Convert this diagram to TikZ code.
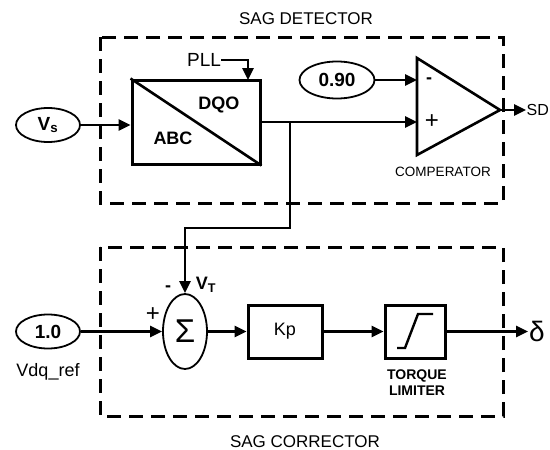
\documentclass[tikz,border=0pt]{standalone}
\usepackage{fontspec}
\setmainfont{Liberation Sans}
\usepackage{tikz}
\usetikzlibrary{shapes.geometric, arrows.meta, positioning}
\newcommand{\setfs}[1]{\fontsize{#1}{#1}\selectfont}
\tikzstyle{signal} = [
    ellipse, draw, line width=1.8pt, inner sep=0pt,
    minimum width=64pt, minimum height=34pt, font=\bfseries\setfs{19}
]
\tikzstyle{block} = [rectangle, draw, line width=3pt, inner sep=0pt]
\tikzstyle{arrow} = [line width=2.6pt, -{Triangle[length=12pt,width=11pt]}]
\tikzstyle{wire} = [line width=2.6pt]
\tikzstyle{region} = [line width=3pt, dash pattern=on 14pt off 8pt]
\tikzstyle{boxtitle} = [font=\setfs{17}, inner sep=0pt]
\tikzstyle{smalltag} = [font=\setfs{13.5}, inner sep=0pt]
\tikzstyle{blocktext} = [font=\bfseries\setfs{18}, inner sep=0pt]

\begin{document}
\begin{tikzpicture}[x=1pt, y=-1pt]
    \useasboundingbox (0,0) rectangle (550,450);

    % sag detector
    \draw [region] (100,37) rectangle (503,203);
    \node [boxtitle] (dettitle) at (306,19) {SAG DETECTOR};

    \node [signal] (vs) at (48,125) {V\textsubscript{s}};
    \node [block, minimum width=128pt, minimum height=84pt] (abc) at (196,122) {};
    \draw [wire] (abc.north west) -- (abc.south east);
    \node [blocktext] (dqo) at (219,105) {DQO};
    \node [blocktext] (abctxt) at (173,138) {ABC};
    \node [font=\setfs{19}, inner sep=0pt] (pll) at (204,60) {PLL};
    \coordinate (pllin) at (248,80);

    \draw [arrow] (pll.east) -| (pllin);
    \draw [arrow] (vs.east) -- (vs.east -| abc.west);

    % comperator
    \draw [line width=2.6pt, line join=miter] (417,58) -- (500,110) -- (417,155) -- cycle;
    \coordinate (compout) at (500,110);
    \coordinate (cminus) at (417,80);
    \coordinate (cplus) at (417,122);
    \node [blocktext] (minus) at (429,81) {-};
    \node [font=\setfs{24}, inner sep=0pt] (plus) at (432,122) {+};
    \node [smalltag] (comptxt) at (443,172) {COMPERATOR};
    \node [signal, minimum width=75pt, minimum height=37pt] (ref90) at (337,80) {0.90};
    \node [font=\setfs{16}, anchor=west, inner sep=0.5pt] (sd) at (526,110) {SD};

    \draw [arrow] (ref90) -- (cminus);
    \draw [arrow] (abc.east) -- (cplus);
    \draw [arrow] (compout) -- (sd.west);

    % sag corrector
    \draw [region] (100,247) rectangle (503,416);
    \node [boxtitle] (cortitle) at (305,442) {SAG CORRECTOR};

    \node [signal] (ref10) at (48,331.5) {1.0};
    \node [font=\setfs{18}, inner sep=0pt] (vdqref) at (48,372) {Vdq\_ref};
    \node [ellipse, draw, line width=1.8pt, inner sep=0pt, minimum width=44pt,
        minimum height=75pt, font=\setfs{33}] (sum) at (185,331.5) {Σ};
    \node [font=\setfs{24}, inner sep=0pt] (plus2) at (153,315) {+};
    \node [blocktext] (minus2) at (168,289) {-};
    \node [blocktext] (vt) at (206,285) {V\textsubscript{T}};
    \node [block, minimum width=74pt, minimum height=53pt, font=\setfs{18}] (kp) at (285,331.5) {Kp};
    \node [block, minimum width=60pt, minimum height=53pt] (lim) at (415,331.5) {};
    \draw [line width=2.4pt] ([shift={(-18,16.5)}]lim.center) -- ++(8,0) -- ++(13,-34) -- ++(15,0);
    \node [smalltag, font=\bfseries\setfs{14}, align=center] (limtxt) at (417,383) {TORQUE\\[2pt]LIMITER};
    \node [font=\setfs{28}, anchor=west, inner sep=1pt] (delta) at (528,331.5) {δ};

    \coordinate (split) at (290,122);
    \coordinate (bend) at (290,228);

    \draw [arrow] (split) -- (bend) -| (sum.north);
    \draw [arrow] (ref10) -- (sum);
    \draw [arrow] (sum) -- (kp);
    \draw [arrow] (kp) -- (lim);
    \draw [arrow] (lim) -- (delta.west);
\end{tikzpicture}
\end{document}
